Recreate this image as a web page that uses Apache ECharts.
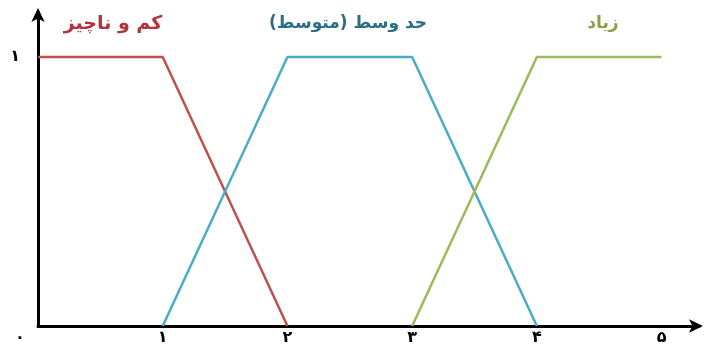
<!DOCTYPE html>
<html><head><meta charset="utf-8">
<script src="https://cdn.jsdelivr.net/npm/echarts@6/dist/echarts.min.js"></script>
<style>html,body{margin:0;padding:0;background:#fff}#c{width:707px;height:349px}</style>
</head><body><div id="c"></div>
<script>
const seriesNames = ['کم و ناچیز', 'حد وسط (متوسط)', 'زیاد'];
const lowPoints = [[0, 1], [1, 1], [2, 0]];
const midPoints = [[1, 0], [2, 1], [3, 1], [4, 0]];
const highPoints = [[3, 0], [4, 1], [5, 1]];
const xTickLabels = ['۰', '۱', '۲', '۳', '۴', '۵'];
const yTickLabels = ['', '۱'];

const lineColors = ['#c0504d', '#4bacc6', '#9bbb59'];
const textColors = ['#b0343a', '#2c6e84', '#8c9f47'];
const font = 'DejaVu Sans';

const chart = echarts.init(document.getElementById('c'));
chart.setOption({
  animation: false,
  grid: { left: 38, right: 8, top: 12, bottom: 23, containLabel: false },
  xAxis: {
    type: 'value', min: 0, max: 5.3, interval: 1,
    splitLine: { show: false },
    axisTick: { show: false },
    axisLine: { lineStyle: { color: '#000', width: 3 }, symbol: ['none', 'arrow'], symbolSize: [10, 14], symbolOffset: [0, 4] },
    axisLabel: {
      margin: 4, color: '#000', fontFamily: font, fontSize: 16, fontWeight: 'bold',
      formatter: v => {
        if (Math.abs(v - Math.round(v)) > 1e-6 || v > 5) return '';
        const i = Math.round(v);
        return i === 0 ? '{z|' + xTickLabels[0] + '}' : xTickLabels[i];
      },
      rich: { z: { padding: [0, 36, 0, 0], fontFamily: font, fontSize: 16, fontWeight: 'bold', color: '#000' } }
    }
  },
  yAxis: {
    type: 'value', min: 0, max: 1.167, interval: 1,
    splitLine: { show: false },
    axisTick: { show: false },
    axisLine: { lineStyle: { color: '#000', width: 3 }, symbol: ['none', 'arrow'], symbolSize: [10, 14], symbolOffset: [0, 4] },
    axisLabel: {
      margin: 18, color: '#000', fontFamily: font, fontSize: 16, fontWeight: 'bold',
      verticalAlign: 'middle', padding: [0, 0, 6, 0],
      formatter: v => (Math.abs(v - Math.round(v)) > 1e-6 ? '' : (yTickLabels[Math.round(v)] || ''))
    }
  },
  series: [lowPoints, midPoints, highPoints].map((d, i) => ({
    type: 'line', name: seriesNames[i], data: d, showSymbol: false,
    lineStyle: { color: lineColors[i], width: 2.5 }, z: 2
  })),
  graphic: seriesNames.map((n, i) => ({
    type: 'text',
    x: [113, 348, 603][i], y: 24,
    style: { text: n, fill: textColors[i], font: 'bold ' + [19, 17, 17][i] + 'px "' + font + '"', textAlign: 'center', textVerticalAlign: 'middle' }
  }))
});
</script></body></html>
